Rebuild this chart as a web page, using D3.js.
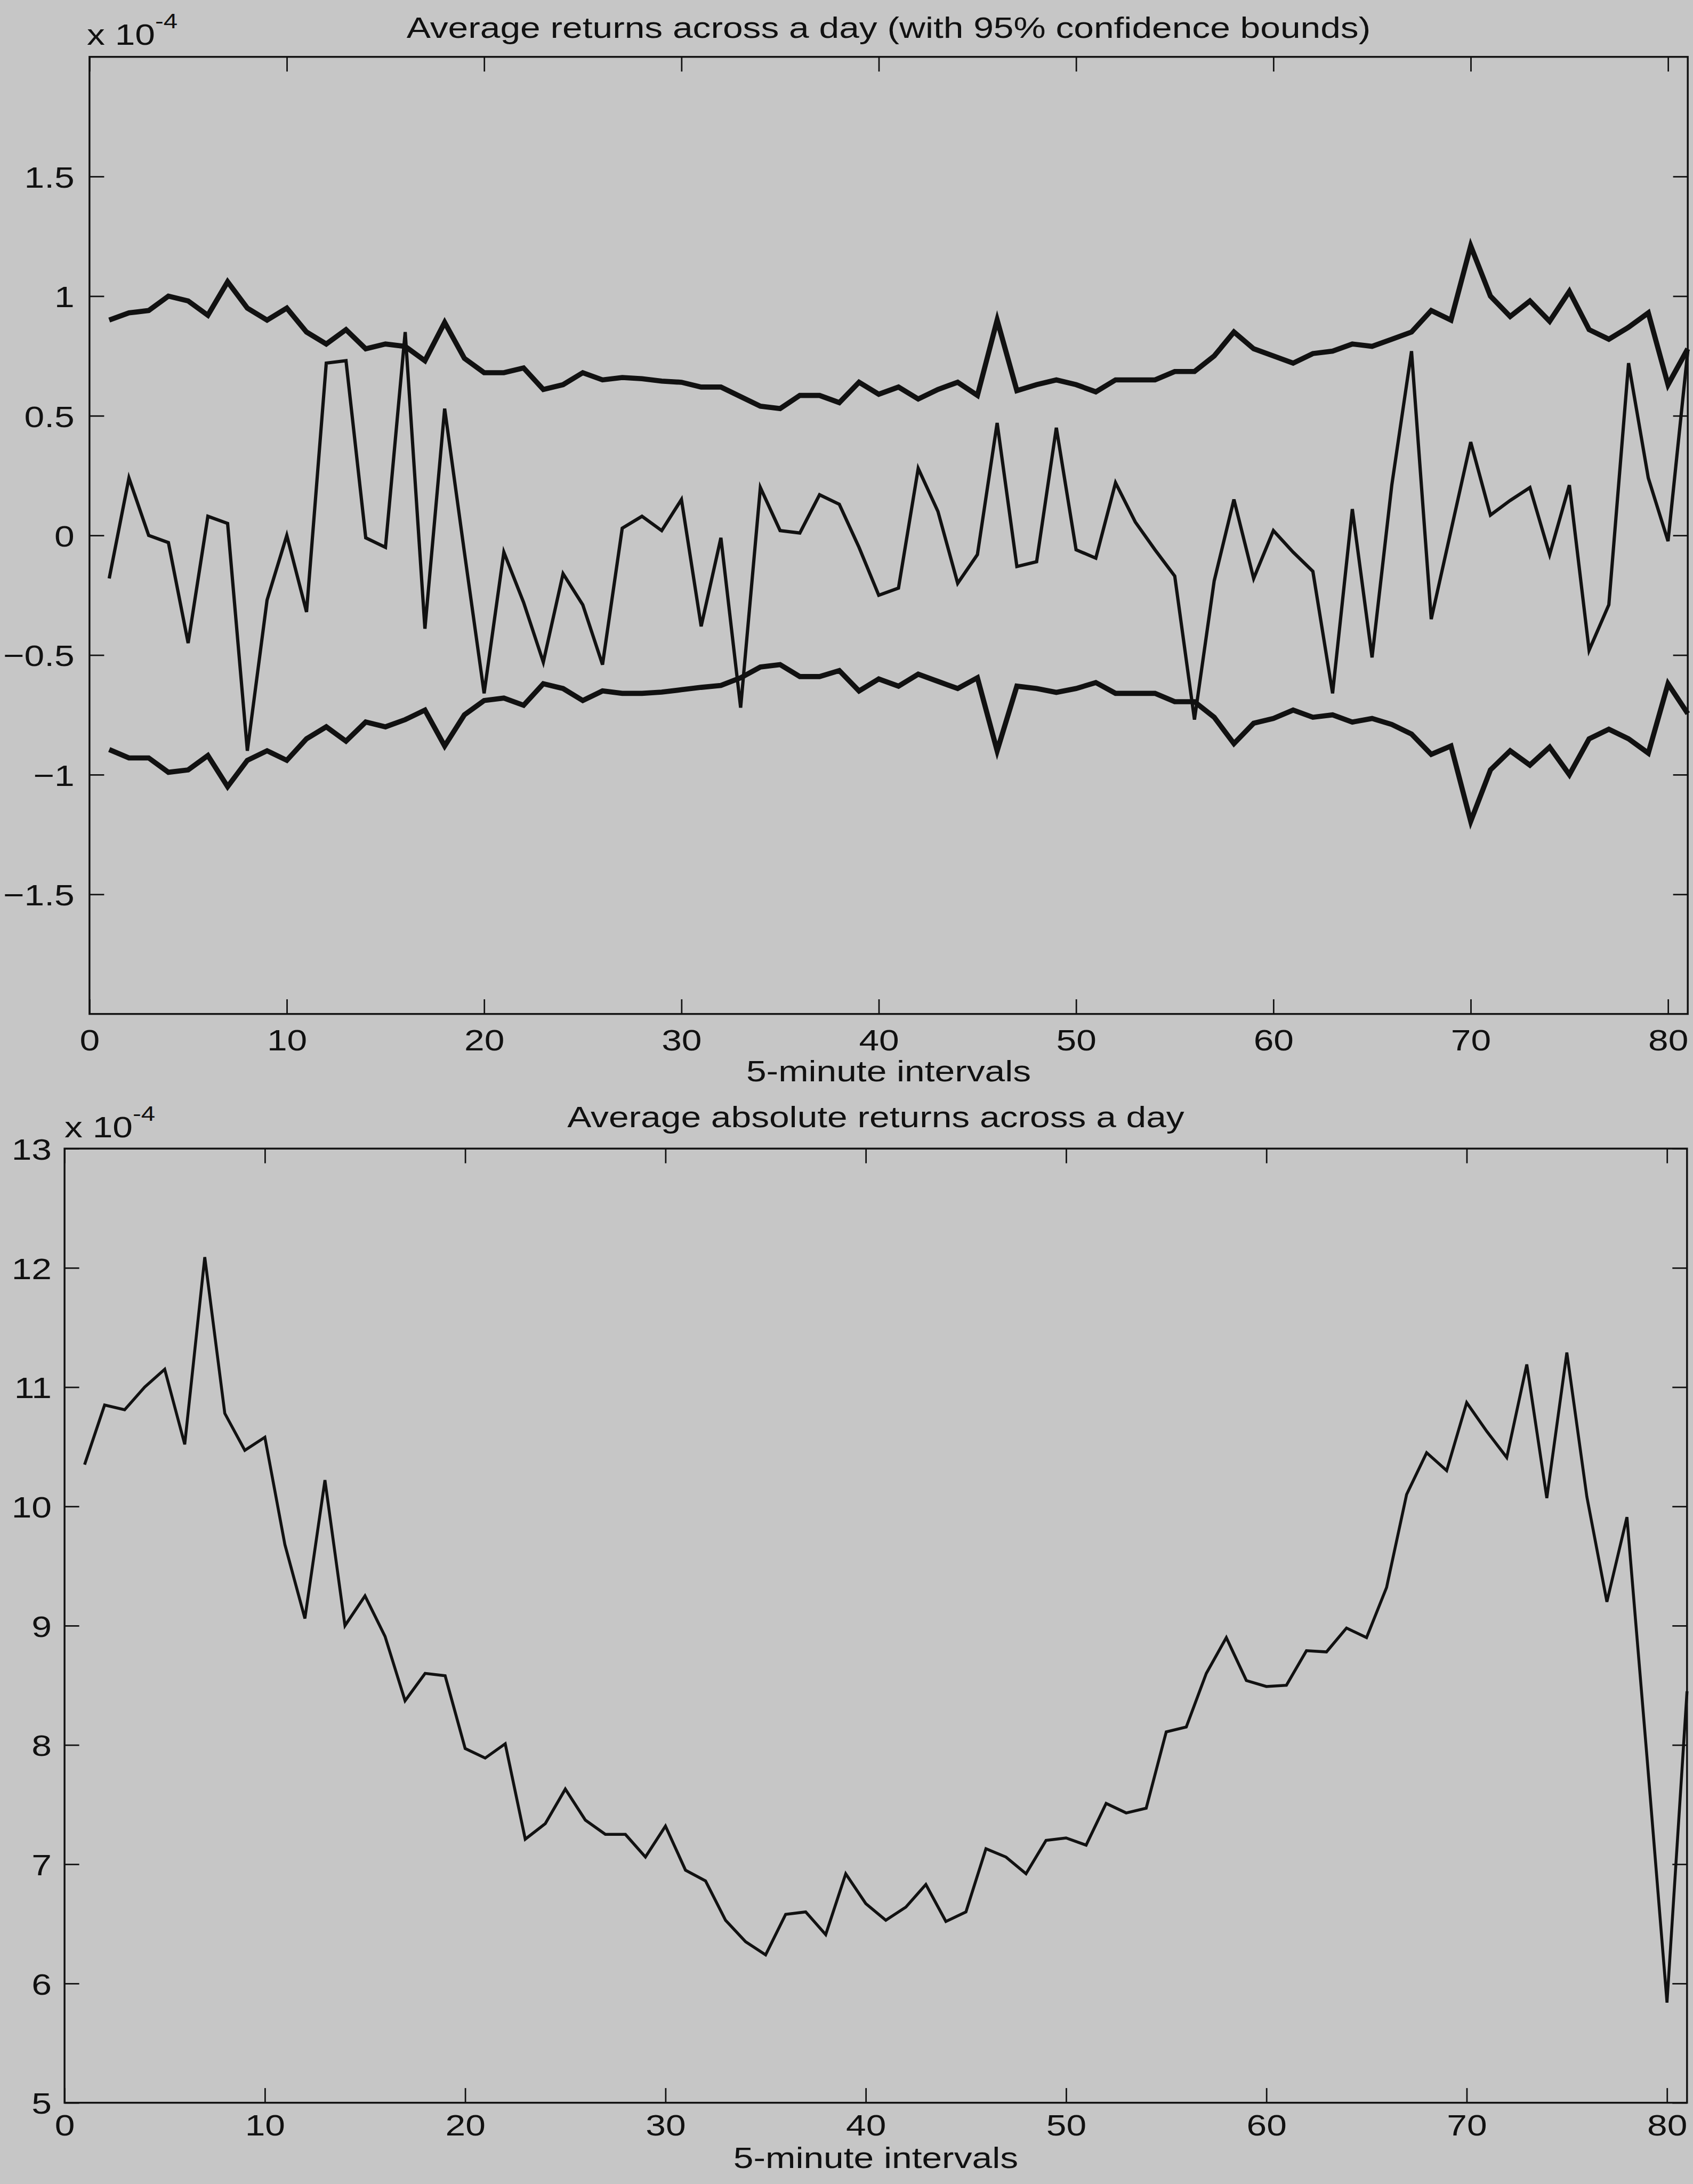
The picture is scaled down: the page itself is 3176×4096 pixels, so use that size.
<!DOCTYPE html>
<html>
<head>
<meta charset="utf-8">
<script src="https://cdn.jsdelivr.net/npm/d3@7"></script>
<style>
  body { margin: 0; background: #c6c6c6; }
  svg { display: block; }
  text { font-family: "Liberation Sans", Arial, Helvetica, sans-serif; fill: #111; }
</style>
</head>
<body>
<svg id="fig"></svg>
<script>
// 1. Data (units of 1e-4)
// 1.1. Upper panel: mean 5-minute return and its 95% bounds, intervals 1..81
const meanReturn = [
  -0.18, 0.24, 0.00, -0.03, -0.45, 0.08, 0.05, -0.90, -0.27, 0.00,
  -0.32, 0.72, 0.73, -0.01, -0.05, 0.85, -0.39, 0.53, -0.07, -0.66,
  -0.07, -0.28, -0.53, -0.16, -0.29, -0.54, 0.03, 0.08, 0.02, 0.15,
  -0.38, -0.01, -0.72, 0.20, 0.02, 0.01, 0.17, 0.13, -0.05, -0.25,
  -0.22, 0.28, 0.10, -0.20, -0.08, 0.47, -0.13, -0.11, 0.45, -0.06,
  -0.095, 0.22, 0.056, -0.06, -0.17, -0.77, -0.19, 0.15, -0.18, 0.02,
  -0.07, -0.15, -0.66, 0.11, -0.51, 0.21, 0.77, -0.35, 0.02, 0.39,
  0.085, 0.146, 0.20, -0.08, 0.21, -0.48, -0.29, 0.72, 0.24, -0.024,
  0.77
];
const upperBound = [
  0.90, 0.93, 0.94, 1.00, 0.98, 0.92, 1.06, 0.95, 0.90, 0.95,
  0.85, 0.80, 0.86, 0.78, 0.80, 0.79, 0.73, 0.89, 0.74, 0.68,
  0.68, 0.70, 0.61, 0.63, 0.68, 0.65, 0.66, 0.655, 0.645, 0.64,
  0.62, 0.62, 0.58, 0.54, 0.53, 0.585, 0.585, 0.555, 0.64, 0.59,
  0.62, 0.57, 0.61, 0.64, 0.585, 0.90, 0.605, 0.63, 0.65, 0.63,
  0.60, 0.65, 0.65, 0.65, 0.685, 0.685, 0.75, 0.85, 0.78, 0.75,
  0.72, 0.76, 0.77, 0.80, 0.79, 0.82, 0.85, 0.94, 0.90, 1.21,
  1.00, 0.915, 0.98, 0.895, 1.02, 0.86, 0.82, 0.87, 0.93, 0.63,
  0.78
];
const lowerBound = [
  -0.895, -0.93, -0.93, -0.99, -0.98, -0.92, -1.05, -0.94, -0.90, -0.94,
  -0.85, -0.80, -0.86, -0.78, -0.80, -0.77, -0.73, -0.88, -0.75, -0.69,
  -0.68, -0.71, -0.62, -0.64, -0.69, -0.65, -0.66, -0.66, -0.655, -0.645,
  -0.635, -0.627, -0.595, -0.55, -0.54, -0.59, -0.59, -0.565, -0.65, -0.60,
  -0.63, -0.58, -0.61, -0.64, -0.595, -0.90, -0.63, -0.64, -0.656, -0.64,
  -0.615, -0.66, -0.66, -0.66, -0.695, -0.695, -0.76, -0.87, -0.785, -0.765,
  -0.73, -0.76, -0.75, -0.78, -0.765, -0.79, -0.83, -0.915, -0.88, -1.195,
  -0.98, -0.90, -0.96, -0.885, -1.00, -0.85, -0.81, -0.85, -0.91, -0.62,
  -0.745
];

// 1.2. Lower panel: mean absolute 5-minute return
const meanAbsReturn = [
  10.35, 10.85, 10.81, 11.00, 11.15, 10.52, 12.09, 10.78, 10.47, 10.58,
  9.68, 9.06, 10.22, 9.00, 9.25, 8.91, 8.37, 8.60, 8.58, 7.97,
  7.89, 8.01, 7.21, 7.34, 7.63, 7.37, 7.25, 7.25, 7.06, 7.32,
  6.95, 6.86, 6.53, 6.35, 6.24, 6.58, 6.60, 6.41, 6.92, 6.67,
  6.53, 6.64, 6.83, 6.52, 6.60, 7.13, 7.06, 6.92, 7.20, 7.22,
  7.16, 7.51, 7.43, 7.47, 8.11, 8.15, 8.60, 8.90, 8.54, 8.49,
  8.50, 8.79, 8.78, 8.98, 8.90, 9.32, 10.10, 10.45, 10.30, 10.87,
  10.63, 10.41, 11.19, 10.07, 11.29, 10.08, 9.20, 9.91, 7.90, 5.84,
  8.45
];

// 1.3. Axis ticks and texts
const xTicks = [0, 10, 20, 30, 40, 50, 60, 70, 80];
const retTicks = [-1.5, -1, -0.5, 0, 0.5, 1, 1.5];
const absTicks = [5, 6, 7, 8, 9, 10, 11, 12, 13];
const xLabel = "5-minute intervals";
const titleTop = "Average returns across a day (with 95% confidence bounds)";
const titleBottom = "Average absolute returns across a day";

// 2. Page setup (layout measured in reference pixels, scaled by K)
const K = 0.688;
const W = 3176, H = 4096;
const FONT = 82 * K;
const STRETCH = 1.2; // scanned lettering is wider than plain Helvetica
const INK = "#111";

const svg = d3.select("#fig").attr("width", W).attr("height", H);
svg.append("rect").attr("width", W).attr("height", H).attr("fill", "#c6c6c6");

function label(txt, x, y, anchor) {
  return svg.append("text")
    .attr("transform", `translate(${x * K},${y * K}) scale(${STRETCH},1)`)
    .attr("text-anchor", anchor)
    .attr("font-size", FONT)
    .text(txt);
}

function expLabel(x, y) {
  const t = svg.append("text")
    .attr("transform", `translate(${x * K},${y * K}) scale(${STRETCH},1)`)
    .attr("font-size", FONT);
  t.append("tspan").text("x 10");
  t.append("tspan").attr("font-size", FONT * 0.7).attr("dy", -45 * K).text("-4");
}

// 3. One panel: box, inward ticks on all four sides, labels
function drawPanel(box, yDomain, yTicks, yFmt, opts) {
  const x = d3.scaleLinear().domain([0, 81]).range([box.left * K, box.right * K]);
  const y = d3.scaleLinear().domain(yDomain).range([box.bottom * K, box.top * K]);
  const tick = 40 * K;

  const g = svg.append("g");

  const styleAxis = (sel) => {
    sel.select(".domain").remove();
    sel.selectAll("line").attr("stroke", INK).attr("stroke-width", 4 * K);
    sel.attr("font-size", FONT).attr("font-family", null);
  };

  g.append("g")
    .attr("transform", `translate(0,${box.bottom * K})`)
    .call(d3.axisBottom(x).tickValues(xTicks).tickSizeInner(-tick).tickSizeOuter(0))
    .call(styleAxis)
    .call((a) => a.selectAll("text")
      .attr("y", null)
      .attr("dy", "0.72em")
      .attr("fill", INK)
      .attr("transform", `translate(0,${opts.xGap * K}) scale(${STRETCH},1)`));

  g.append("g")
    .attr("transform", `translate(0,${box.top * K})`)
    .call(d3.axisTop(x).tickValues(xTicks).tickSizeInner(-tick).tickSizeOuter(0).tickFormat(""))
    .call(styleAxis);

  g.append("g")
    .attr("transform", `translate(${box.left * K},0)`)
    .call(d3.axisLeft(y).tickValues(yTicks).tickSizeInner(-tick).tickSizeOuter(0).tickFormat(yFmt))
    .call(styleAxis)
    .call((a) => a.selectAll("text")
      .attr("x", null)
      .attr("dy", "0.36em")
      .attr("fill", INK)
      .attr("transform", `translate(${-opts.yGap * K},0) scale(${STRETCH},1)`));

  g.append("g")
    .attr("transform", `translate(${box.right * K},0)`)
    .call(d3.axisRight(y).tickValues(yTicks).tickSizeInner(-tick).tickSizeOuter(0).tickFormat(""))
    .call(styleAxis);

  g.append("rect")
    .attr("x", box.left * K)
    .attr("y", box.top * K)
    .attr("width", (box.right - box.left) * K)
    .attr("height", (box.bottom - box.top) * K)
    .attr("fill", "none")
    .attr("stroke", INK)
    .attr("stroke-width", 5 * K);

  const line = d3.line()
    .x((d, i) => x(i + 1))
    .y((d) => y(d));

  return { g, line };
}

// 4. Upper panel
const topBox = { left: 244, right: 4602, top: 155, bottom: 2764 };
const retFmt = (d) => String(d).replace("-", "\u2212");
const upperPanel = drawPanel(topBox, [-2, 2], retTicks, retFmt, { xGap: 40, yGap: 41 });

[upperBound, lowerBound].forEach((s) => {
  upperPanel.g.append("path")
    .datum(s)
    .attr("d", upperPanel.line)
    .attr("fill", "none")
    .attr("stroke", INK)
    .attr("stroke-width", 14 * K)
    .attr("stroke-linejoin", "miter");
});
upperPanel.g.append("path")
  .datum(meanReturn)
  .attr("d", upperPanel.line)
  .attr("fill", "none")
  .attr("stroke", INK)
  .attr("stroke-width", 9 * K)
  .attr("stroke-linejoin", "miter");

label(titleTop, 2423, 103, "middle");
label(xLabel, 2423, 2948, "middle");
expLabel(237, 122);

// 5. Lower panel
const botBox = { left: 176, right: 4600, top: 3131, bottom: 5732 };
const lowerPanel = drawPanel(botBox, [5, 13], absTicks, (d) => String(d), { xGap: 30, yGap: 35 });

lowerPanel.g.append("path")
  .datum(meanAbsReturn)
  .attr("d", lowerPanel.line)
  .attr("fill", "none")
  .attr("stroke", INK)
  .attr("stroke-width", 8 * K)
  .attr("stroke-linejoin", "miter");

label(titleBottom, 2388, 3073, "middle");
label(xLabel, 2388, 5910, "middle");
expLabel(176, 3100);
</script>
</body>
</html>
